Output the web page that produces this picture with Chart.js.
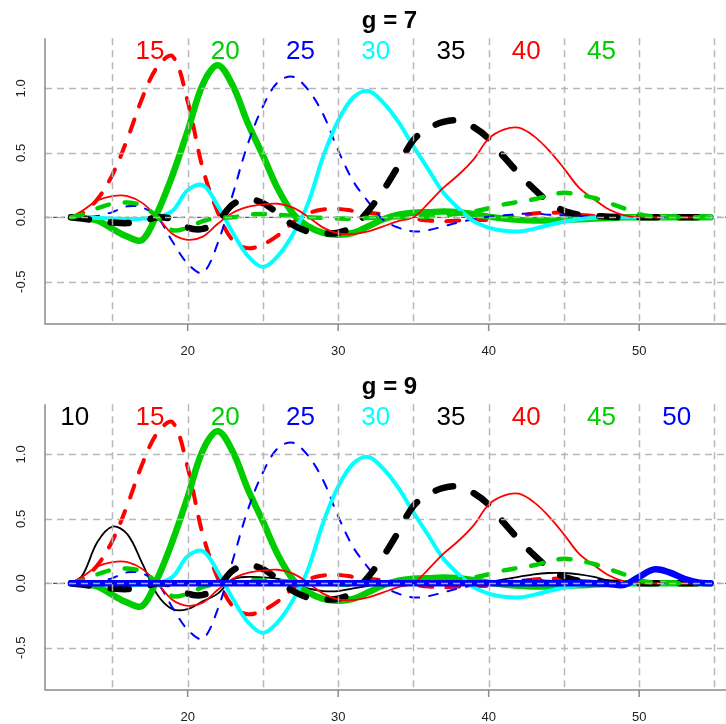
<!DOCTYPE html>
<html><head><meta charset="utf-8">
<script src="https://cdn.jsdelivr.net/npm/chart.js@4.4.1/dist/chart.umd.min.js"></script>
<style>
html,body{margin:0;padding:0;background:#fff;width:726px;height:724px;overflow:hidden;}
.wrap{position:absolute;left:0;width:726px;height:362px;}
#w1{top:0px} #w2{top:366px}
canvas{display:block}
</style></head><body>
<div class="wrap" id="w1"><canvas id="c1" width="726" height="362"></canvas></div>
<div class="wrap" id="w2"><canvas id="c2" width="726" height="362"></canvas></div>
<script>
// ---- data ----
const ages = [12.25,13,14,15,16,17,18,19,20,21,22,23,24,25,26,27,28,29,30,31,32,33,34,35,36,37,38,39,40,41,42,43,44,45,46,47,48,49,50,51,52,53,54,54.75];

const s10 = [0,0.06,0.32,0.44,0.38,0.15,-0.09,-0.2,-0.2,-0.14,-0.08,0.03,0.05,0.045,0.035,0,-0.04,-0.06,-0.06,-0.04,-0.02,0,0.01,0.01,0.005,0,0,0.005,0.01,0.03,0.05,0.07,0.08,0.08,0.07,0.05,0.02,0,0,0,0,0,0,0];
const s15 = [0,0.03,0.14,0.33,0.61,0.93,1.17,1.25,0.9,0.38,0.04,-0.18,-0.24,-0.21,-0.14,-0.04,0.03,0.06,0.065,0.05,0.035,0.025,0.01,-0.01,-0.025,-0.03,-0.025,-0.02,-0.02,-0.01,0.01,0.03,0.035,0.035,0.02,0.01,0,-0.005,0,0,0,0,0,0];
const s20 = [0,-0.005,-0.025,-0.09,-0.15,-0.175,0.04,0.33,0.67,1.03,1.18,1.02,0.73,0.48,0.22,0.03,-0.07,-0.12,-0.135,-0.12,-0.07,-0.015,0.02,0.035,0.04,0.045,0.04,0.025,0.005,-0.01,-0.02,-0.025,-0.025,-0.02,-0.015,-0.01,-0.005,0,0,0,0,0,0,0];
const s25 = [0,0,0.01,0.04,0.085,0.075,0,-0.19,-0.36,-0.43,-0.2,0.18,0.57,0.86,1.05,1.09,0.99,0.8,0.52,0.28,0.12,-0.02,-0.08,-0.11,-0.1,-0.07,-0.04,-0.015,0.005,0.015,0.025,0.03,0.02,0.015,0.01,0.005,0,0,0,0,0,0,0,0];
const s30 = [0,0,-0.005,-0.01,-0.015,-0.01,0,0.05,0.21,0.25,0.09,-0.12,-0.3,-0.385,-0.3,-0.13,0.11,0.47,0.75,0.93,0.98,0.89,0.74,0.55,0.37,0.19,0.07,-0.03,-0.08,-0.105,-0.11,-0.09,-0.06,-0.035,-0.015,-0.005,0,0,0,0,0,0,0,0];
const s35 = [0,-0.01,-0.025,-0.04,-0.045,-0.03,0,-0.015,-0.08,-0.09,-0.03,0.1,0.14,0.11,0.03,-0.06,-0.11,-0.125,-0.12,-0.07,0.05,0.21,0.4,0.6,0.69,0.74,0.75,0.7,0.61,0.47,0.34,0.22,0.12,0.05,0.02,0.01,0.005,0,0,0,0,0,0,0];
const s40 = [0,0.05,0.13,0.165,0.165,0.11,0,-0.13,-0.175,-0.15,-0.05,0.035,0.08,0.1,0.105,0.075,0.005,-0.08,-0.125,-0.13,-0.11,-0.07,-0.03,0,0.11,0.23,0.33,0.45,0.61,0.68,0.695,0.63,0.52,0.38,0.23,0.14,0.06,0.015,0,0,0,0,0,0];
const s45 = [0,0.02,0.07,0.105,0.115,0.09,0,-0.1,-0.08,-0.03,-0.005,0,0.02,0.025,0.02,0.01,0,-0.005,-0.01,-0.01,-0.005,0,0,0,0.005,0.015,0.03,0.045,0.07,0.1,0.12,0.14,0.17,0.19,0.175,0.15,0.11,0.07,0.025,0.005,0,0,0,0];
const s50 = [0,0,0,0,0,0,0,0,0,0,0,0,0,0,0,0,0,0,0,0,0,0,0,0,0,0,0,0,0,0,0,0,0,0,0,0,-0.005,-0.012,0.05,0.108,0.085,0.035,0.005,0];

const seriesNames = [10,15,20,25,30,35,40,45,50];
const seriesValues = {10:s10,15:s15,20:s20,25:s25,30:s30,35:s35,40:s40,45:s45,50:s50};
const panelTitles = ['g = 7','g = 9'];
const panelSeries = [[15,20,25,30,35,40,45],[10,15,20,25,30,35,40,45,50]];
const xTicks = [20,30,40,50];
const yTicks = [-0.5,0,0.5,1];
const yTickLabels = ['-0.5','0.0','0.5','1.0'];
const gridX = [15,20,25,30,35,40,45,50,55];
const gridY = [-0.5,0,0.5,1];

// ---- styles ----
const styles = {
  10:{color:'#000000',width:1.8,dash:[]},
  15:{color:'#FF0000',width:4,dash:[13,14]},
  20:{color:'#00CD00',width:6.5,dash:[]},
  25:{color:'#0000FF',width:2,dash:[9,10]},
  30:{color:'#00FFFF',width:4,dash:[]},
  35:{color:'#000000',width:6.5,dash:[18,22]},
  40:{color:'#FF0000',width:1.8,dash:[]},
  45:{color:'#00CD00',width:4.5,dash:[12,16]},
  50:{color:'#0000FF',width:6.5,dash:[]}
};
const FONT = "'Liberation Sans', Arial, Helvetica, sans-serif";

const rAxes = {
  id:'rAxes',
  beforeDatasetsDraw(chart){
    const {ctx, chartArea:a, scales:{y}} = chart;
    const y0 = y.getPixelForValue(0);
    ctx.save();
    ctx.strokeStyle = '#333'; ctx.lineWidth = 1; ctx.setLineDash([4,4]);
    ctx.beginPath(); ctx.moveTo(a.left, y0); ctx.lineTo(a.right, y0); ctx.stroke();
    ctx.restore();
  },
  afterDatasetsDraw(chart, args, opts){
    const {ctx, chartArea:a, scales:{x,y}} = chart;
    ctx.save();
    // grid on top (as in R grid drawn after lines)
    ctx.strokeStyle = 'rgba(180,180,180,0.95)'; ctx.lineWidth = 1.5; ctx.setLineDash([7,5]);
    gridX.forEach(v=>{ const px = Math.round(x.getPixelForValue(v))+0.5;
      ctx.beginPath(); ctx.moveTo(px,a.top); ctx.lineTo(px,a.bottom); ctx.stroke(); });
    gridY.forEach(v=>{ const py = Math.round(y.getPixelForValue(v))+0.5;
      ctx.beginPath(); ctx.moveTo(a.left,py); ctx.lineTo(a.right,py); ctx.stroke(); });
    ctx.setLineDash([]);
    // axis lines (L box)
    ctx.strokeStyle = '#8a8a8a'; ctx.lineWidth = 1.5;
    ctx.beginPath(); ctx.moveTo(a.left, a.top); ctx.lineTo(a.left, a.bottom); ctx.lineTo(a.right, a.bottom); ctx.stroke();
    // x ticks
    ctx.fillStyle = '#222'; ctx.font = '13px '+FONT; ctx.textAlign = 'center'; ctx.textBaseline = 'alphabetic';
    xTicks.forEach(v=>{ const px = x.getPixelForValue(v);
      ctx.beginPath(); ctx.moveTo(px, a.bottom); ctx.lineTo(px, a.bottom+7); ctx.stroke();
      ctx.fillText(String(v), px, a.bottom+31); });
    // y tick labels (rotated)
    yTicks.forEach((v,i)=>{ const py = y.getPixelForValue(v);
      ctx.save(); ctx.translate(20, py); ctx.rotate(-Math.PI/2);
      ctx.fillText(yTickLabels[i], 0, 4.6); ctx.restore(); });
    // top labels
    ctx.font = '26px '+FONT;
    opts.labels.forEach(k=>{ const px = x.getPixelForValue(k+2.5); const py = y.getPixelForValue(1.3);
      ctx.fillStyle = styles[k].color; ctx.fillText(String(k), px, py+9.3); });
    // title
    ctx.fillStyle = '#000'; ctx.font = 'bold 24px '+FONT;
    ctx.fillText(opts.title, 389.5, 28.3);
    ctx.restore();
  }
};

function makeChart(id, p){
  const ds = panelSeries[p].map(k=>({
    label:String(k),
    data: ages.map((a,i)=>({x:a, y:seriesValues[k][i]})),
    borderColor: styles[k].color, borderWidth: styles[k].width, borderDash: styles[k].dash,
    borderCapStyle:'round', borderJoinStyle:'round',
    pointRadius:0, pointHoverRadius:0, tension:0.35, fill:false
  })).reverse();
  new Chart(document.getElementById(id), {
    type:'line',
    data:{datasets:ds},
    options:{
      responsive:false, animation:false, events:[],
      layout:{padding:{left:45,right:0,top:38.3,bottom:38}},
      scales:{
        x:{type:'linear',display:false,min:10.52,max:55.77},
        y:{type:'linear',display:false,min:-0.828,max:1.389}
      },
      plugins:{legend:{display:false},tooltip:{enabled:false},title:{display:false},
        rAxes:{title:panelTitles[p], labels:panelSeries[p]}}
    },
    plugins:[rAxes]
  });
}
makeChart('c1',0);
makeChart('c2',1);
</script>
</body></html>
